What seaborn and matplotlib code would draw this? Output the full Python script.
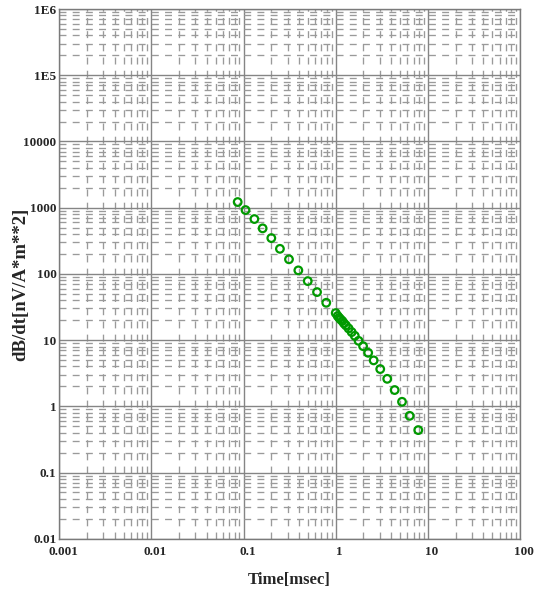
import numpy as np
import pandas as pd
import seaborn as sns
import matplotlib
matplotlib.use("Agg")
import matplotlib.pyplot as plt
from matplotlib.ticker import LogLocator, FixedLocator, FixedFormatter, NullFormatter
from matplotlib.transforms import ScaledTranslation

# Transient decay: time gates [msec] and dB/dt response [nV/A*m**2]
time_ms = [0.0863, 0.105, 0.131, 0.161, 0.200, 0.248, 0.311, 0.393, 0.497,
           0.627, 0.789, 1.00, 1.05, 1.09, 1.13, 1.18, 1.23, 1.29, 1.38,
           1.49, 1.61, 1.77, 1.98, 2.25, 2.58, 3.04, 3.62, 4.36, 5.24,
           6.34, 7.87]
dbdt = [1216, 920, 673, 487, 347, 239, 166, 113, 77.8,
        53.1, 36.6, 25.6, 23.1, 21.7, 20.5, 19.4, 17.9, 16.7, 15.0,
        13.2, 11.6, 9.75, 8.1, 6.43, 4.94, 3.65, 2.60, 1.76, 1.17,
        0.718, 0.437]

x_ticks = [0.001, 0.01, 0.1, 1, 10, 100]
x_tick_labels = ["0.001", "0.01", "0.1", "1", "10", "100"]
y_ticks = [0.01, 0.1, 1, 10, 100, 1000, 10000, 1e5, 1e6]
y_tick_labels = ["0.01", "0.1", "1", "10", "100", "1000", "10000", "1E5", "1E6"]

df = pd.DataFrame({"time": time_ms, "dbdt": dbdt})

sns.set_style("white")
plt.rcParams["font.family"] = ["Liberation Serif", "DejaVu Serif"]
plt.rcParams["font.weight"] = "bold"
plt.rcParams["lines.scale_dashes"] = False

fig = plt.figure(figsize=(5.35, 5.90), dpi=100)
ax = fig.add_axes([0.1108, 0.0869, 0.9720 - 0.1108, 0.9847 - 0.0869])

ax.set_xscale("log")
ax.set_yscale("log")
ax.set_xlim(x_ticks[0], x_ticks[-1])
ax.set_ylim(y_ticks[0], y_ticks[-1])

ax.xaxis.set_major_locator(FixedLocator(x_ticks))
ax.xaxis.set_major_formatter(FixedFormatter(x_tick_labels))
ax.yaxis.set_major_locator(FixedLocator(y_ticks))
ax.yaxis.set_major_formatter(FixedFormatter(y_tick_labels))
ax.xaxis.set_minor_locator(LogLocator(base=10, subs=np.arange(2, 10), numticks=50))
ax.yaxis.set_minor_locator(LogLocator(base=10, subs=np.arange(2, 10), numticks=50))
ax.xaxis.set_minor_formatter(NullFormatter())
ax.yaxis.set_minor_formatter(NullFormatter())

ax.grid(which="minor", color="#9a9a9a", linewidth=0.95, linestyle=(0, (5.0, 4.5)))
ax.grid(which="major", color="#858585", linewidth=1.0, linestyle="-")
ax.set_axisbelow(True)

sns.scatterplot(data=df, x="time", y="dbdt", ax=ax, marker="o", s=30,
                facecolor="none", edgecolor="#009a00", linewidth=1.6,
                zorder=3, legend=False)

ax.tick_params(which="both", length=0)
ax.tick_params(axis="x", pad=5, labelsize=9.5)
ax.tick_params(axis="y", pad=2, labelsize=9.5)
for lab in ax.get_xticklabels():
    lab.set_fontweight("bold")
    lab.set_transform(lab.get_transform() + ScaledTranslation(4 / 100, 0, fig.dpi_scale_trans))
for lab in ax.get_yticklabels():
    lab.set_fontweight("bold")

for sp in ax.spines.values():
    sp.set_color("#7a7a7a")
    sp.set_linewidth(1.0)

ax.set_xlabel("Time[msec]", fontsize=12, fontweight="bold", labelpad=10)
ax.set_ylabel("dB/dt[nV/A*m**2]", fontsize=13.5, fontweight="bold",
              va="center", ha="center")
ax.yaxis.set_label_coords(-0.083, 0.48)

fig.savefig("out.png", dpi=100)
